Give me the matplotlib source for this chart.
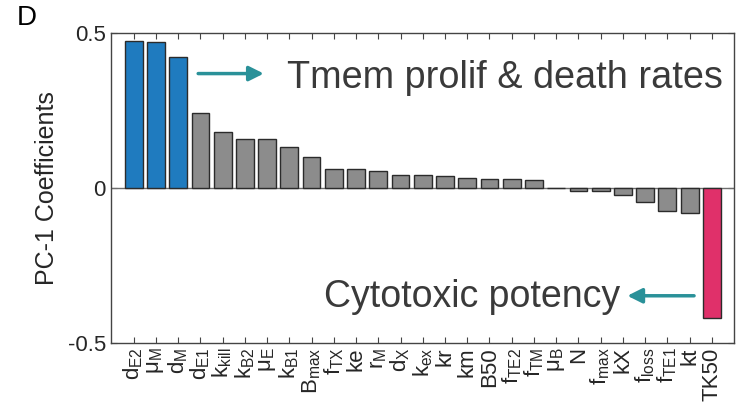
import numpy as np
import matplotlib
matplotlib.use('Agg')
import matplotlib.pyplot as plt

plt.rcParams['font.family'] = ['Liberation Sans', 'DejaVu Sans']
plt.rcParams['mathtext.fontset'] = 'custom'
plt.rcParams['mathtext.rm'] = 'Liberation Sans'
plt.rcParams['mathtext.it'] = 'Liberation Sans:italic'
plt.rcParams['mathtext.default'] = 'regular'

# parameter names (sorted by PC-1 coefficient)
labels = [r'$d_{E2}$', r'$\mu_M$', r'$d_M$', r'$d_{E1}$', r'$k_{kill}$', r'$k_{B2}$',
          r'$\mu_E$', r'$k_{B1}$', r'$B_{max}$', r'$f_{TX}$', 'ke', r'$r_M$', r'$d_X$',
          r'$k_{ex}$', 'kr', 'km', 'B50', r'$f_{TE2}$', r'$f_{TM}$', r'$\mu_B$', 'N',
          r'$f_{max}$', 'kX', r'$f_{loss}$', r'$f_{TE1}$', 'kt', 'TK50']
coef = [0.475, 0.472, 0.424, 0.244, 0.181, 0.159, 0.158, 0.134, 0.102, 0.062,
        0.061, 0.055, 0.044, 0.043, 0.040, 0.032, 0.031, 0.029, 0.025, 0.001,
        -0.008, -0.008, -0.021, -0.044, -0.075, -0.079, -0.419]
group = ['tmem'] * 3 + ['other'] * 23 + ['cyto']

colors = {'tmem': '#1f7bbf', 'other': '#8c8c8c', 'cyto': '#e0306a'}
teal = '#2a9199'
txtc = '#3a3a3a'

x = np.arange(1, len(coef) + 1)

fig = plt.figure(figsize=(7.43, 4.11), dpi=100)
ax = fig.add_axes([0.150, 0.165, 0.838, 0.754])

ax.bar(x, coef, width=0.8, color=[colors[g] for g in group],
       edgecolor='#2b2b2b', linewidth=1.0, zorder=3)
ax.axhline(0, color='#6e6e6e', lw=1.0, zorder=2)

ax.set_xlim(0, len(coef) + 1)
ax.set_ylim(-0.5, 0.5)
ax.set_yticks([-0.5, 0, 0.5])
ax.set_yticklabels(['-0.5', '0', '0.5'], fontsize=16, color='#262626')
ax.set_xticks(x)
ax.set_xticklabels(labels, rotation=90, fontsize=16, color='#262626')
ax.tick_params(direction='in', top=True, right=True, length=4, width=0.8,
               color='#444444', pad=4)
ax.tick_params(axis='x', pad=3)
for s in ax.spines.values():
    s.set_color('#444444')
    s.set_linewidth(1.0)
ax.set_ylabel('PC-1 Coefficients', fontsize=18, color='#262626', labelpad=6)

# annotations
ax.annotate('', xy=(6.85, 0.37), xytext=(3.9, 0.37), xycoords='data',
            arrowprops=dict(arrowstyle='-|>', color=teal, lw=2.5,
                            mutation_scale=22, shrinkA=0, shrinkB=0))
ax.text(7.9, 0.355, 'Tmem prolif & death rates', fontsize=27.3, color=txtc,
        va='center', ha='left')
ax.annotate('', xy=(23.2, -0.347), xytext=(26.2, -0.347), xycoords='data',
            arrowprops=dict(arrowstyle='-|>', color=teal, lw=2.5,
                            mutation_scale=22, shrinkA=0, shrinkB=0))
ax.text(9.55, -0.352, 'Cytotoxic potency', fontsize=27, color=txtc,
        va='center', ha='left')

fig.text(0.022, 0.955, 'D', fontsize=20, color='black', va='center', ha='left')

fig.savefig('out.png', dpi=100)
